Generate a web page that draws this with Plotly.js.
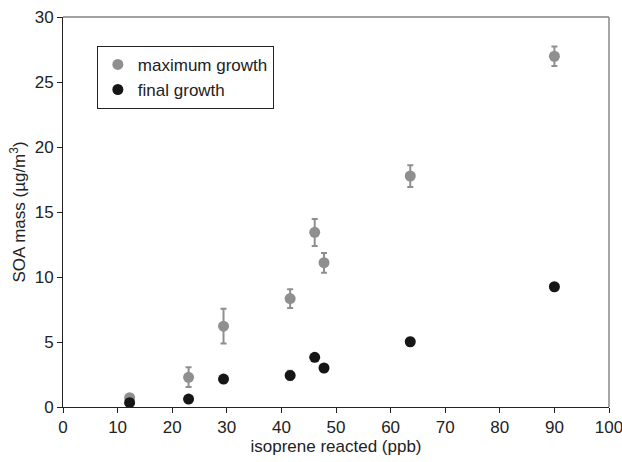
<!DOCTYPE html>
<html>
<head>
<meta charset="utf-8">
<script src="https://cdn.plot.ly/plotly-3.0.1.min.js"></script>
<style>html,body{margin:0;padding:0;background:#fff;}#chart{width:622px;height:462px;}</style>
</head>
<body>
<div id="chart"></div>
<script>
// Data
var isopreneReacted = [12.2, 23.0, 29.4, 41.6, 46.1, 47.8, 63.6, 90.0];
var maxGrowth      = [0.72, 2.28, 6.22, 8.34, 13.44, 11.1, 17.77, 26.98];
var maxErrPlus     = [0.15, 0.77, 1.33, 0.72, 1.03, 0.75, 0.82, 0.76];
var maxErrMinus    = [0.15, 0.75, 1.33, 0.73, 1.05, 0.78, 0.84, 0.75];
var finalGrowth    = [0.33, 0.61, 2.15, 2.43, 3.82, 3.0, 5.02, 9.25];
var finalErr       = [0.1, 0.1, 0.25, 0.35, 0.25, 0.15, 0.3, 0.15];
var xTicks = [0, 10, 20, 30, 40, 50, 60, 70, 80, 90, 100];
var yTicks = [0, 5, 10, 15, 20, 25, 30];

var traces = [
  {
    x: isopreneReacted, y: maxGrowth, type: 'scatter', mode: 'markers', name: 'maximum growth',
    marker: {color: '#8f8f8f', size: 11},
    error_y: {type: 'data', symmetric: false, array: maxErrPlus, arrayminus: maxErrMinus,
              color: '#8f8f8f', thickness: 2, width: 3}
  },
  {
    x: isopreneReacted, y: finalGrowth, type: 'scatter', mode: 'markers', name: 'final growth',
    marker: {color: '#161616', size: 11},
    error_y: {type: 'data', array: finalErr, color: '#8f8f8f', thickness: 2, width: 3}
  }
];

var layout = {
  width: 622, height: 462,
  margin: {l: 63, r: 13, t: 17, b: 55},
  paper_bgcolor: '#fff', plot_bgcolor: '#fff',
  font: {family: 'Liberation Sans, Arial, sans-serif', size: 17, color: '#222'},
  showlegend: true,
  legend: {
    x: 0.062, y: 0.926, xanchor: 'left', yanchor: 'top',
    bgcolor: '#fff', bordercolor: '#222', borderwidth: 1,
    font: {size: 17, color: '#222'}, tracegroupgap: 0, itemwidth: 30
  },
  xaxis: {
    range: [0, 100], tickvals: xTicks, ticktext: xTicks.map(String),
    showgrid: false, zeroline: false, showline: true, linecolor: '#222', linewidth: 1,
    ticks: 'outside', ticklen: 5, tickcolor: '#222', tickfont: {size: 17},
    ticklabeloverflow: 'allow',
    title: {text: 'isoprene reacted (ppb)', font: {size: 17}, standoff: 3}
  },
  yaxis: {
    range: [0, 30], tickvals: yTicks, ticktext: yTicks.map(String),
    showgrid: false, zeroline: false, showline: true, linecolor: '#222', linewidth: 1,
    ticks: 'outside', ticklen: 5, tickcolor: '#222', tickfont: {size: 17},
    title: {text: 'SOA mass (µg/m<sup>3</sup>)', font: {size: 17}, standoff: 4}
  },
  shapes: [
    {type: 'line', xref: 'paper', yref: 'paper', x0: 0, x1: 1, y0: 1, y1: 1, line: {color: '#444', width: 1}},
    {type: 'line', xref: 'paper', yref: 'paper', x0: 1, x1: 1, y0: 0, y1: 1, line: {color: '#888', width: 1.5}}
  ]
};

Plotly.newPlot('chart', traces, layout, {displayModeBar: false, staticPlot: true});
</script>
</body>
</html>
